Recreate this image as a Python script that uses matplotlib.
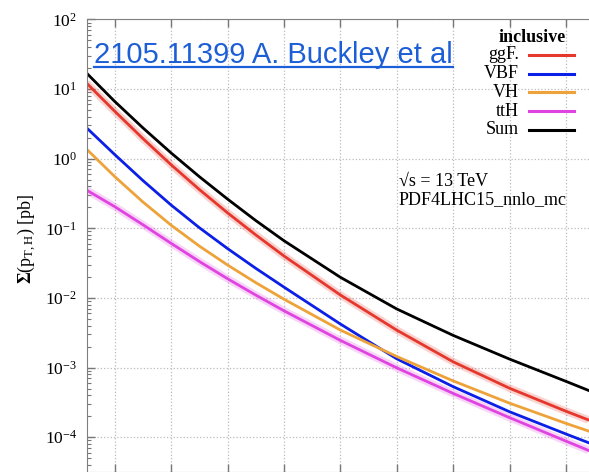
import numpy as np
import matplotlib.pyplot as plt
from matplotlib.lines import Line2D
from matplotlib.ticker import LogLocator, FixedLocator, NullFormatter, LogFormatterMathtext

plt.rcParams['font.family'] = ['Liberation Serif', 'DejaVu Serif']
plt.rcParams['mathtext.fontset'] = 'custom'
plt.rcParams['mathtext.rm'] = 'Liberation Serif'
plt.rcParams['mathtext.it'] = 'Liberation Serif:italic'
plt.rcParams['mathtext.bf'] = 'Liberation Serif:bold'

# cumulative cross section above the pT cut [pb]
pt_cut = [50, 100, 150, 200, 250, 300, 350, 400, 500, 600, 700, 800, 900, 940]
ggf = [12.19, 4.80, 1.945, 0.818, 0.361, 0.167, 0.0805, 0.0401, 0.01104, 0.00345,
       0.00121, 0.000505, 0.000236, 0.000177]
vbf = [2.78, 1.146, 0.4853, 0.2158, 0.1021, 0.0512, 0.02667, 0.01432, 0.004227, 0.001337,
       0.000532, 0.000232, 0.0001112, 0.0000834]
vh = [1.374, 0.5534, 0.2388, 0.1109, 0.0556, 0.02972, 0.0166, 0.0096, 0.00346, 0.001442,
      0.000644, 0.000308, 0.000158, 0.0001227]
tth = [0.354, 0.2046, 0.1125, 0.0608, 0.03342, 0.01888, 0.0110, 0.006546, 0.00246, 0.000991,
       0.0004256, 0.000191, 0.0000879, 0.0000646]
total = [16.98, 6.64, 2.77, 1.208, 0.552, 0.263, 0.1294, 0.0664, 0.01982, 0.00695,
         0.0029, 0.001324, 0.000634, 0.00047]

names = ['ggF.', 'VBF', 'VH', 'ttH', 'Sum']
colors = ['#e6372d', '#0b1fe6', '#eea23a', '#e044e0', '#000000']
series = [ggf, vbf, vh, tth, total]
has_band = [True, False, False, True, False]

W, H = 589, 472
fig = plt.figure(figsize=(W / 100, H / 100), dpi=100)


def fx(px):
    return px / W


def fy(py):
    return 1 - py / H


ax = fig.add_axes([fx(86.5), 0, 507.6 / W, 1 - 19.4 / H])
ax.set_yscale('log')
ax.set_xlim(50, 950)
ax.set_ylim(10 ** -4.5, 100)

for vals, c, band in zip(series, colors, has_band):
    if band:
        ax.plot(pt_cut, vals, color=c, lw=5.5, alpha=0.22, solid_capstyle='butt')
    ax.plot(pt_cut, vals, color=c, lw=2.0)

ax.xaxis.set_major_locator(FixedLocator(range(100, 1000, 100)))
ax.xaxis.set_major_formatter(NullFormatter())
ax.yaxis.set_major_locator(FixedLocator([1e-4, 1e-3, 1e-2, 1e-1, 1, 10, 100]))
ax.yaxis.set_minor_locator(LogLocator(base=10, subs=np.arange(2, 10), numticks=10))
ax.yaxis.set_minor_formatter(NullFormatter())
ax.yaxis.set_major_formatter(LogFormatterMathtext())
ax.tick_params(which='both', direction='in', top=True, right=False, color='#777777')
ax.tick_params(which='major', length=6, width=1, labelsize=12.5, pad=7)
ax.tick_params(which='minor', length=3, width=0.8)
for s in ax.spines.values():
    s.set_color('#808080')
ax.grid(True, which='major', linestyle=':', color='#bbbbbb', lw=0.9)

fig.text(fx(27), fy(239), r'$\mathbf{\Sigma}$(p$_{\mathrm{T,H}}$) [pb]', rotation=90,
         ha='center', va='center', fontsize=13)

# legend block
fig.text(fx(531.7), fy(37.5), 'inclusive', ha='center', va='center',
         fontsize=13, fontweight='bold')
rows = [54.7, 73.7, 92.3, 111, 130]
for name, c, yr in zip(names, colors, rows):
    fig.text(fx(519), fy(yr), name, ha='right', va='center', fontsize=13)
    fig.add_artist(Line2D([fx(529), fx(574)], [fy(yr), fy(yr)], color=c, lw=2.2,
                          transform=fig.transFigure))

fig.text(fx(399), fy(181.7), '√s = 13 TeV', ha='left', va='center', fontsize=13,
         family=['Liberation Serif', 'DejaVu Serif'])
fig.text(fx(399), fy(199.5), 'PDF4LHC15_nnlo_mc', ha='left', va='center', fontsize=13)

# arXiv reference, underlined like a hyperlink
link_color = '#1c5ed6'
ref = fig.text(fx(94), fy(63.3), '2105.11399 A. Buckley et al', ha='left', va='baseline',
               fontsize=21, color=link_color, family=['Liberation Sans', 'DejaVu Sans'])
fig.canvas.draw()
bb = ref.get_window_extent(fig.canvas.get_renderer())
x0, x1 = bb.x0 / W, bb.x1 / W
fig.add_artist(Line2D([x0, x1], [fy(66.8), fy(66.8)], color=link_color, lw=1.6,
                      transform=fig.transFigure))

fig.savefig('out.png', dpi=100)
